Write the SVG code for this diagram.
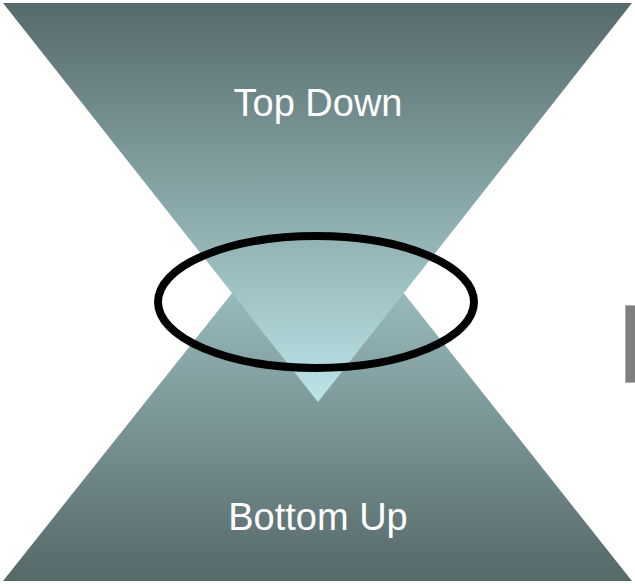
<svg xmlns="http://www.w3.org/2000/svg" width="635" height="584" viewBox="0 0 635 584">
<style>
.lbl{font-family:"Liberation Sans",Arial,sans-serif;font-size:38px;fill:#ffffff;text-anchor:middle}
</style>
<defs>
<linearGradient id="gTop" x1="0" y1="3" x2="0" y2="402" gradientUnits="userSpaceOnUse">
<stop offset="0" stop-color="#566a6a"/>
<stop offset="1" stop-color="#bce5e8"/>
</linearGradient>
<linearGradient id="gBot" x1="0" y1="185" x2="0" y2="581" gradientUnits="userSpaceOnUse">
<stop offset="0" stop-color="#b0d8db"/>
<stop offset="1" stop-color="#566868"/>
</linearGradient>
</defs>
<rect width="635" height="584" fill="#ffffff"/>
<g id="bottom-up">
<polygon points="3,581 632,581 318,185" fill="url(#gBot)"/>
<text class="lbl" x="318" y="530">Bottom Up</text>
</g>
<g id="top-down">
<polygon points="3,3 632,3 318,402" fill="url(#gTop)"/>
<text class="lbl" x="318" y="116">Top Down</text>
</g>
<g id="overlap">
<ellipse cx="316" cy="302" rx="158" ry="66" fill="none" stroke="#000000" stroke-width="8"/>
</g>
<g id="side-bar">
<rect x="625.5" y="305.5" width="12" height="77" fill="#7f7f7f" stroke="#b0b0b0" stroke-width="1"/>
</g>
<g id="connectors"></g>
</svg>
